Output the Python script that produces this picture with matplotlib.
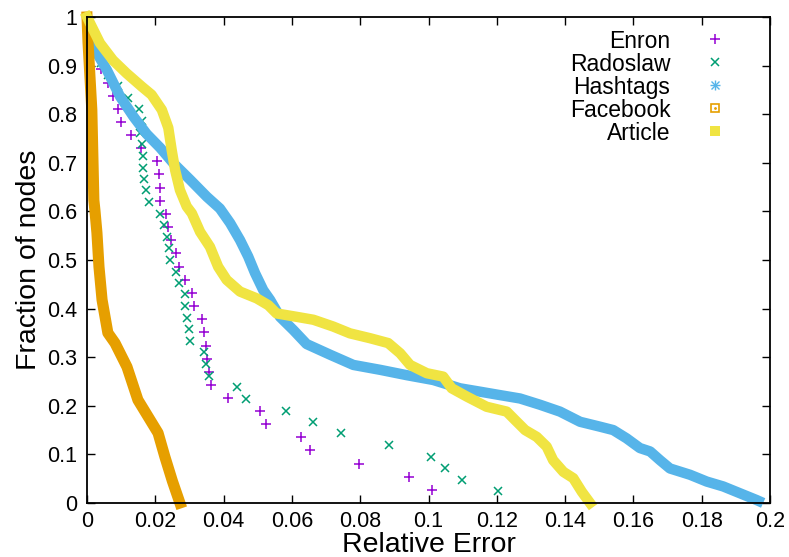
import matplotlib.pyplot as plt
from matplotlib.ticker import FuncFormatter, MultipleLocator

plt.rcParams['font.family'] = ['Liberation Sans', 'DejaVu Sans']

# Enron (+) and Radoslaw (x): step CDFs, one point per node
enron_x = [0.0, 0.001, 0.002, 0.0028, 0.004, 0.006, 0.0077, 0.009, 0.010, 0.0129,
           0.0157, 0.0205, 0.0211, 0.0213, 0.0214, 0.0231, 0.0238, 0.0245, 0.0261,
           0.0270, 0.0286, 0.0307, 0.0313, 0.0337, 0.0343, 0.0348, 0.0351, 0.0358,
           0.0363, 0.0412, 0.0507, 0.0524, 0.0628, 0.0653, 0.0797, 0.0943, 0.1011]
enron_y = [1.0, 0.973, 0.946, 0.919, 0.892, 0.865, 0.838, 0.811, 0.784, 0.757,
           0.730, 0.703, 0.676, 0.649, 0.622, 0.595, 0.568, 0.541, 0.514,
           0.486, 0.459, 0.432, 0.405, 0.378, 0.351, 0.324, 0.297, 0.270,
           0.243, 0.216, 0.189, 0.162, 0.135, 0.108, 0.081, 0.054, 0.027]

rado_x = [0.0, 0.0005, 0.001, 0.0023, 0.004, 0.006, 0.0092, 0.012, 0.0151, 0.0160,
          0.0155, 0.0162, 0.0165, 0.0165, 0.0166, 0.0173, 0.0182, 0.0215, 0.0225,
          0.0235, 0.0241, 0.0244, 0.0261, 0.0268, 0.0286, 0.0286, 0.0294, 0.0300,
          0.0302, 0.0343, 0.0348, 0.0358, 0.0439, 0.0466, 0.0582, 0.0663, 0.0743,
          0.0883, 0.1007, 0.1048, 0.1097, 0.1203]
rado_y = [1.0, 0.976, 0.952, 0.929, 0.905, 0.881, 0.857, 0.833, 0.810, 0.786,
          0.762, 0.738, 0.714, 0.690, 0.667, 0.643, 0.619, 0.595, 0.571,
          0.548, 0.524, 0.500, 0.476, 0.452, 0.429, 0.405, 0.381, 0.357,
          0.333, 0.310, 0.286, 0.262, 0.238, 0.214, 0.190, 0.167, 0.143,
          0.119, 0.095, 0.071, 0.048, 0.024]

# Hashtags, Facebook, Article: dense curves
hash_x = [0.0005, 0.0018, 0.0058, 0.0097, 0.0136, 0.0175, 0.0214, 0.0253, 0.0302,
          0.0351, 0.0389, 0.0419, 0.0448, 0.0472, 0.0492, 0.0516, 0.0536, 0.0565,
          0.0604, 0.0643, 0.0712, 0.0780, 0.0858, 0.0936, 0.1014, 0.1092, 0.1151,
          0.1209, 0.1268, 0.1327, 0.1385, 0.1444, 0.1502, 0.1541, 0.1580, 0.1619,
          0.1649, 0.1678, 0.1707, 0.1766, 0.1815, 0.1863, 0.1912, 0.1961, 0.1980]
hash_y = [0.975, 0.939, 0.891, 0.836, 0.795, 0.759, 0.731, 0.699, 0.665,
          0.630, 0.606, 0.576, 0.541, 0.507, 0.473, 0.438, 0.418, 0.383,
          0.356, 0.327, 0.305, 0.284, 0.274, 0.263, 0.253, 0.236, 0.229,
          0.222, 0.215, 0.202, 0.188, 0.167, 0.157, 0.150, 0.133, 0.113,
          0.106, 0.088, 0.071, 0.058, 0.044, 0.034, 0.020, 0.006, 0.0]

fb_x = [0.0, 0.0003, 0.0014, 0.0020, 0.0023, 0.0029, 0.0035, 0.0044, 0.0061,
        0.0082, 0.0117, 0.0149, 0.0208, 0.0228, 0.0250, 0.0272]
fb_y = [1.0, 0.947, 0.809, 0.623, 0.603, 0.556, 0.486, 0.418, 0.350,
        0.329, 0.280, 0.212, 0.144, 0.095, 0.045, 0.0]

art_x = [0.0, 0.0009, 0.0038, 0.0076, 0.0116, 0.0160, 0.0189, 0.0219, 0.0238,
         0.0248, 0.0258, 0.0272, 0.0292, 0.0307, 0.0331, 0.0360, 0.0384, 0.0409,
         0.0448, 0.0497, 0.0531, 0.0555, 0.0614, 0.0663, 0.0721, 0.0770, 0.0829,
         0.0882, 0.0917, 0.0946, 0.0995, 0.1043, 0.1068, 0.1112, 0.1170, 0.1229,
         0.1253, 0.1283, 0.1317, 0.1346, 0.1365, 0.1395, 0.1424, 0.1449, 0.1473]
art_y = [1.0, 0.987, 0.946, 0.911, 0.884, 0.857, 0.840, 0.809, 0.772,
         0.726, 0.685, 0.644, 0.610, 0.596, 0.558, 0.527, 0.486, 0.459,
         0.435, 0.421, 0.407, 0.390, 0.383, 0.377, 0.363, 0.349, 0.339,
         0.329, 0.308, 0.284, 0.267, 0.260, 0.236, 0.219, 0.198, 0.188,
         0.171, 0.150, 0.136, 0.116, 0.088, 0.064, 0.051, 0.023, 0.0]

names = ['Enron', 'Radoslaw', 'Hashtags', 'Facebook', 'Article']
colors = ['#9400d3', '#009e73', '#56b4e9', '#e69f00', '#f0e442']

fig = plt.figure(figsize=(7.89, 5.57), dpi=100)
ax = fig.add_axes([0.1103, 0.0970, 0.8656, 0.8725])

ax.plot(enron_x, enron_y, ls='none', marker='+', ms=7, mew=1.1, color=colors[0])
ax.plot(rado_x, rado_y, ls='none', marker='x', ms=6, mew=1.1, color=colors[1])
ax.plot(hash_x, hash_y, color=colors[2], lw=7.5, solid_capstyle='butt',
        solid_joinstyle='round', clip_on=False)
ax.plot(fb_x, fb_y, color=colors[3], lw=8, solid_capstyle='projecting',
        solid_joinstyle='round', clip_on=False)
ax.plot(art_x, art_y, color=colors[4], lw=7.5, solid_capstyle='projecting',
        solid_joinstyle='round', clip_on=False)

# legend, gnuplot style: right-aligned text, symbol on the right
markers = [[dict(marker='+', ms=7, mew=1.1)],
           [dict(marker='x', ms=6, mew=1.1)],
           [dict(marker='+', ms=7, mew=1.0), dict(marker='x', ms=5.5, mew=1.0)],
           [dict(marker='s', ms=6, mew=1.2, mfc='none'), dict(marker='.', ms=2)],
           [dict(marker='s', ms=7, mew=0)]]
for i, (name, c, ms) in enumerate(zip(names, colors, markers)):
    yy = 0.955 - i * 0.0475
    ax.text(0.854, yy, name, transform=ax.transAxes, ha='right',
            va='center_baseline', fontsize=16.5)
    for m in ms:
        ax.plot([0.919], [yy], transform=ax.transAxes, ls='none', color=c,
                clip_on=False, **m)

ax.set_xlim(0, 0.2)
ax.set_ylim(0, 1)
ax.xaxis.set_major_locator(MultipleLocator(0.02))
ax.yaxis.set_major_locator(MultipleLocator(0.1))
fmt = FuncFormatter(lambda v, p: '%g' % round(v, 4))
ax.xaxis.set_major_formatter(fmt)
ax.yaxis.set_major_formatter(fmt)
ax.tick_params(direction='in', length=6, width=1, top=True, right=True,
               labelsize=15.5, pad=7)
ax.tick_params(axis='x', pad=6)
for s in ax.spines.values():
    s.set_linewidth(1.3)

ax.set_xlabel('Relative Error', fontsize=20.5, labelpad=0)
ax.set_ylabel('Fraction of nodes', fontsize=20.5, labelpad=4)

fig.savefig('out.png', dpi=100)
